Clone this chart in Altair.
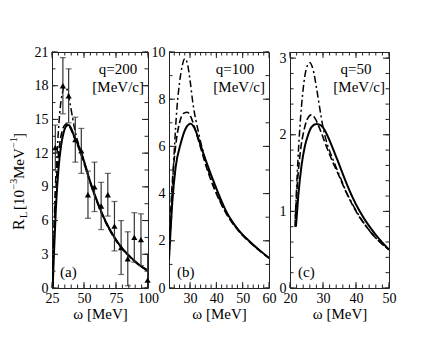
import altair as alt
import pandas as pd
import numpy as np

FONT = "Liberation Serif"

# ---------------- Panel (a): q = 200 MeV/c ----------------
a_solid_w = [25.5, 26.5, 28, 30, 32, 34, 36, 38, 40, 43, 46, 50, 55, 60, 65, 70, 75, 80, 85, 90, 95, 100]
a_solid_r = [0, 3, 7, 10.5, 12.6, 13.8, 14.4, 14.5, 14.2, 13.3, 12.6, 11.3, 9.4, 7.8, 6.4, 5.25, 4.3, 3.5, 2.9, 2.35, 1.9, 1.55]
a_dash_w = [25.5, 27, 29, 31, 33, 35, 37, 39, 42, 46, 50, 55, 60, 65, 70, 75, 80, 85, 90, 95, 100]
a_dash_r = [0, 6, 10.5, 12.8, 14.0, 14.5, 14.6, 14.3, 13.5, 12.4, 11.1, 9.3, 7.7, 6.3, 5.15, 4.2, 3.45, 2.85, 2.3, 1.88, 1.5]
a_dd_w = [25.5, 27, 29, 31, 33, 35, 37, 39, 41, 43, 46, 50, 55, 60, 65, 70, 75, 80, 85, 90, 95, 100]
a_dd_r = [0, 7, 12, 15.5, 17.3, 17.9, 17.6, 16.5, 15.2, 14.0, 12.7, 11.3, 9.4, 7.8, 6.4, 5.2, 4.3, 3.5, 2.9, 2.35, 1.9, 1.55]
# experimental points
exp_w = [27.6, 33.5, 38, 43.2, 47.9, 53.1, 58.2, 63.4, 68.6, 73.8, 79, 84.2, 89.3, 94.5, 99.7]
exp_r = [12.5, 18.0, 17.1, 13.2, 12.2, 8.3, 9.0, 7.3, 8.3, 5.5, 3.6, 2.6, 4.5, 4.3, 0.7]
exp_e = [2.0, 2.5, 2.4, 2.0, 2.0, 2.1, 2.2, 2.1, 1.9, 2.2, 2.4, 2.4, 2.2, 2.3, 2.3]

# ---------------- Panel (b): q = 100 MeV/c ----------------
b_solid_w = [22, 23.3, 24.5, 26.4, 28.3, 30.2, 32, 33.4, 36, 39.8, 43.6, 48.6, 53.7, 60]
b_solid_r = [1.2, 3.7, 5.1, 6.1, 6.75, 6.96, 6.7, 6.25, 5.4, 4.27, 3.28, 2.43, 1.87, 1.27]
b_dash_w = [22, 23, 24.5, 26, 27.5, 29, 30.5, 32, 34, 36, 38, 40, 44, 48.6, 53.7, 60]
b_dash_r = [1.5, 4.0, 6.0, 7.0, 7.4, 7.45, 7.2, 6.7, 5.95, 5.2, 4.55, 4.0, 3.1, 2.4, 1.84, 1.27]
b_dd_w = [22, 23, 24, 25, 26, 27, 28, 29, 30, 31, 33.4, 36, 38, 40, 44, 48.6, 53.7, 60]
b_dd_r = [1.2, 3.5, 5.8, 7.6, 8.7, 9.4, 9.72, 9.5, 8.8, 7.9, 6.5, 5.35, 4.6, 4.05, 3.15, 2.42, 1.85, 1.27]

# ---------------- Panel (c): q = 50 MeV/c ----------------
c_solid_w = [21.8, 22.5, 23.5, 24.5, 25.5, 26.5, 28, 29.5, 31, 33, 35, 37, 39, 41, 43, 45, 47, 50]
c_solid_r = [0.8, 1.2, 1.6, 1.85, 2.0, 2.1, 2.14, 2.12, 2.02, 1.82, 1.6, 1.38, 1.18, 1.01, 0.87, 0.75, 0.64, 0.5]
c_dash_w = [21.6, 22.3, 23.2, 24.2, 25.2, 26.5, 27.5, 29, 31, 33, 35, 37, 39, 41, 43, 45, 47, 50]
c_dash_r = [0.9, 1.4, 1.8, 2.05, 2.2, 2.26, 2.22, 2.08, 1.85, 1.64, 1.45, 1.25, 1.08, 0.93, 0.81, 0.7, 0.61, 0.5]
c_dd_w = [21.5, 22.2, 23, 24, 25, 26, 27, 28, 29, 30, 31, 33, 35, 37, 39, 41, 43, 45, 47, 50]
c_dd_r = [0.8, 1.5, 2.1, 2.6, 2.87, 2.94, 2.85, 2.62, 2.35, 2.1, 1.92, 1.68, 1.47, 1.26, 1.09, 0.94, 0.81, 0.7, 0.61, 0.5]

# axis tick values
a_xmaj = [25, 50, 75, 100]
a_ymaj = [0, 3, 6, 9, 12, 15, 18, 21]
b_xmaj = [30, 40, 50, 60]
b_ymaj = [0, 2, 4, 6, 8, 10]
c_xmaj = [20, 30, 40, 50]
c_ymaj = [0, 1, 2, 3]

STYLES = {
    "solid": dict(strokeWidth=2.0),
    "dash": dict(strokeWidth=1.6, strokeDash=[7, 3]),
    "dd": dict(strokeWidth=1.5, strokeDash=[7, 3, 2, 3]),
}
H = 236
MAJ, MIN = 6, 3.5


def panel(curves, xdom, ydom, xmaj, xmin, ymaj, ymin, qtext, letter, W, exp=None, ytitle=False):
    xs = alt.Scale(domain=xdom, nice=False, zero=False)
    ys = alt.Scale(domain=ydom, nice=False, zero=False)
    xax = alt.Axis(values=xmaj, title="ω [MeV]", ticks=False, domain=False, grid=False, labelPadding=3,
                   titlePadding=1, format="d", labelFlush=False, labelOverlap=False)
    yax = alt.Axis(values=ymaj, title=None, ticks=False, domain=False, grid=False, labelPadding=4,
                   format="d", labelFlush=False, labelOverlap=False)
    X = lambda f: alt.X(f, scale=xs, axis=xax)
    Y = lambda f: alt.Y(f, scale=ys, axis=yax)
    layers = []
    for w, r, st in curves:
        df = pd.DataFrame({"w": w, "r": r})
        layers.append(alt.Chart(df).mark_line(color="black", interpolate="monotone", clip=True,
                                              **STYLES[st]).encode(x=X("w:Q"), y=Y("r:Q")))
    if exp is not None:
        ew, er, ee = exp
        df = pd.DataFrame({"w": ew, "r": er, "e": ee})
        df["lo"] = (df["r"] - df["e"]).clip(lower=0)
        df["hi"] = df["r"] + df["e"]
        base = alt.Chart(df)
        layers.append(base.mark_rule(color="#333", strokeWidth=1.2, clip=True).encode(
            x=X("w:Q"), y=Y("lo:Q"), y2="hi:Q"))
        for f in ("lo", "hi"):
            layers.append(base.mark_tick(color="#333", orient="horizontal", size=6, thickness=1.2, clip=True)
                          .encode(x=X("w:Q"), y=Y(f"{f}:Q")))
        layers.append(base.mark_point(shape="triangle-up", filled=True, color="black", size=38, opacity=1)
                      .encode(x=X("w:Q"), y=Y("r:Q")))
    # inward ticks on all four sides
    for vals, L in ((ymaj, MAJ), (ymin, MIN)):
        base = alt.Chart(pd.DataFrame({"v": vals})).mark_rule(color="#222", strokeWidth=1)
        layers.append(base.encode(y=Y("v:Q"), x=alt.value(0), x2=alt.value(L)))
        layers.append(base.encode(y=Y("v:Q"), x=alt.value(W - L), x2=alt.value(W)))
    for vals, L in ((xmaj, MAJ), (xmin, MIN)):
        base = alt.Chart(pd.DataFrame({"v": vals})).mark_rule(color="#222", strokeWidth=1)
        layers.append(base.encode(x=X("v:Q"), y=alt.value(H - L), y2=alt.value(H)))
        layers.append(base.encode(x=X("v:Q"), y=alt.value(0), y2=alt.value(L)))
    # annotations
    txt = lambda s: alt.Chart(pd.DataFrame({"t": [s]}))
    layers.append(txt(qtext).mark_text(font=FONT, fontSize=15, align="center", baseline="middle", color="black")
                  .encode(text="t:N", x=alt.value(66), y=alt.value(17)))
    layers.append(txt("[MeV/c]").mark_text(font=FONT, fontSize=15, align="right", baseline="middle", color="black")
                  .encode(text="t:N", x=alt.value(W - 4), y=alt.value(35)))
    layers.append(txt(letter).mark_text(font=FONT, fontSize=15, align="left", baseline="middle", color="black")
                  .encode(text="t:N", x=alt.value(8), y=alt.value(H - 16)))
    if ytitle:
        pieces = [("R", -33, 178, 16), ("L", -28, 166, 10), ("[10", -33, 158, 15), ("−3", -38, 137.5, 10),
                  ("MeV", -33, 127, 15), ("−1", -38, 96, 10), ("]", -33, 86, 15)]
        for s, px, py, fs in pieces:
            layers.append(txt(s).mark_text(font=FONT, fontSize=fs, angle=270, align="left", baseline="middle",
                                           color="black").encode(text="t:N", x=alt.value(px), y=alt.value(py)))
    return alt.layer(*layers).properties(width=W, height=H)


pa = panel([(a_solid_w, a_solid_r, "solid"), (a_dash_w, a_dash_r, "dash"), (a_dd_w, a_dd_r, "dd")],
           [25, 100], [0, 21], a_xmaj, list(np.arange(25, 101, 5)), a_ymaj, list(np.arange(0, 21.1, 1.5)),
           "q=200", "(a)", 96, exp=(exp_w, exp_r, exp_e), ytitle=True)
pb = panel([(b_solid_w, b_solid_r, "solid"), (b_dash_w, b_dash_r, "dash"), (b_dd_w, b_dd_r, "dd")],
           [22, 60], [0, 10], b_xmaj, list(np.arange(24, 60, 2)), b_ymaj, list(np.arange(0, 10.1, 1)),
           "q=100", "(b)", 100)
pc = panel([(c_solid_w, c_solid_r, "solid"), (c_dash_w, c_dash_r, "dash"), (c_dd_w, c_dd_r, "dd")],
           [20, 50], [0, 3.08], c_xmaj, list(np.arange(20, 50.1, 2)), c_ymaj,
           list(np.round(np.arange(0, 3.01, 0.2), 2)), "q=50", "(c)", 99)

chart = alt.hconcat(pa, pb, pc, spacing=21, bounds="flush").properties(
    padding={"top": 36, "left": 0, "right": 5, "bottom": 5}
).configure_view(stroke="#222", strokeWidth=1).configure_axis(
    labelFont=FONT, labelFontSize=14, labelColor="black", titleFont=FONT, titleFontSize=15,
    titleFontWeight="normal", titleColor="black"
)

chart.save("out.html", embed_options={"renderer": "svg", "actions": False})
